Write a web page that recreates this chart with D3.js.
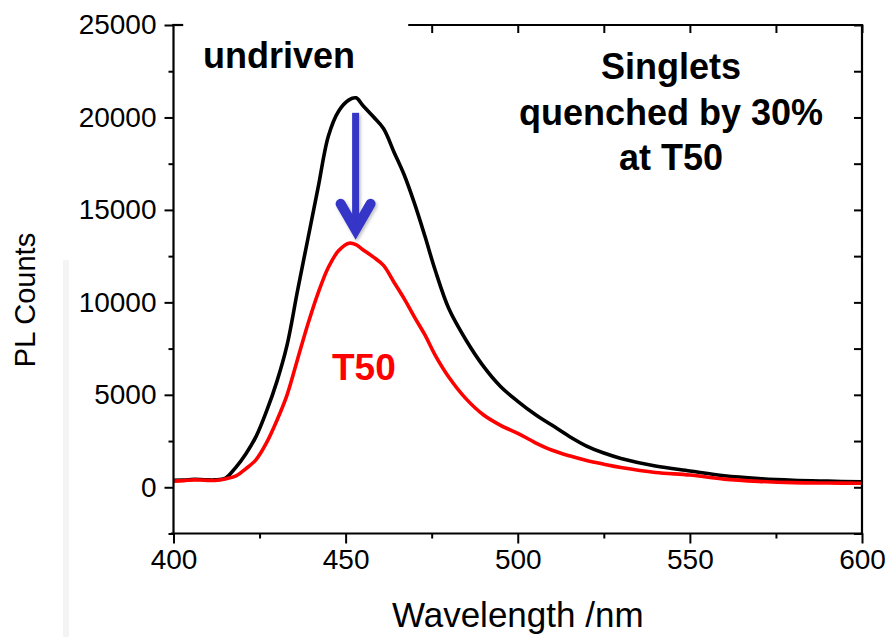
<!DOCTYPE html>
<html>
<head>
<meta charset="utf-8">
<script src="https://cdn.jsdelivr.net/npm/d3@7"></script>
<style>
  html, body { margin: 0; padding: 0; background: #fff; }
  svg { display: block; }
  text { font-family: "Liberation Sans", Arial, Helvetica, sans-serif; }
</style>
</head>
<body>
<svg id="chart" width="889" height="637"></svg>
<script>
// ---- data ----
const wavelengths = [400, 403, 406, 409, 412, 415, 418, 421, 424, 427, 430, 433, 436, 439, 442, 445, 448, 451, 453, 455, 458, 461, 464, 467, 470, 473, 476, 480, 485, 490, 495, 500, 505, 510, 515, 520, 525, 530, 540, 550, 560, 570, 580, 590, 600];
const undriven = [380, 390, 430, 410, 400, 480, 1050, 1800, 2750, 4100, 5700, 7700, 10600, 13400, 16200, 19000, 20350, 20950, 21060, 20650, 20050, 19400, 18150, 16900, 15350, 13600, 11750, 9650, 7950, 6550, 5450, 4650, 3950, 3350, 2750, 2230, 1850, 1560, 1150, 880, 620, 470, 380, 330, 290];
const t50 = [330, 360, 400, 380, 370, 450, 600, 1000, 1500, 2400, 3600, 5000, 6900, 8800, 10500, 11900, 12800, 13200, 13120, 12850, 12460, 12000, 11100, 10200, 9200, 8250, 7150, 5950, 4780, 3920, 3350, 2920, 2420, 2000, 1700, 1450, 1250, 1070, 800, 660, 440, 320, 250, 230, 220];
const xTicks = [400, 450, 500, 550, 600];
const xMinor = [425, 475, 525, 575];
const yTicks = [0, 5000, 10000, 15000, 20000, 25000];
const yMinor = [-2500, 2500, 7500, 12500, 17500, 22500];
const seriesNames = ["undriven", "T50"];
const seriesColors = ["#000000", "#ff0000"];
const arrow = { x: 452.9, yTop: 20250, yTip: 13760 };

// ---- layout ----
const svg = d3.select("#chart");
const pL = 173.5, pR = 862, pT = 25, pB = 533.5;
const x = d3.scaleLinear().domain([400, 600]).range([pL, pR]);
const y = d3.scaleLinear().domain([-2500, 25000]).range([pB, pT]);

// faint scan artifact on the left
svg.append("rect").attr("x", 63).attr("y", 260).attr("width", 6).attr("height", 377).attr("fill", "#f4f4f4");

// ---- curves ----
const line = d3.line().x(d => x(d[0])).y(d => y(d[1])).curve(d3.curveCatmullRom.alpha(0.5));
const seriesData = [undriven, t50];
seriesData.forEach((vals, i) => {
  svg.append("path")
    .datum(wavelengths.map((w, j) => [w, vals[j]]))
    .attr("fill", "none")
    .attr("stroke", seriesColors[i])
    .attr("stroke-width", 3.6)
    .attr("stroke-linejoin", "round")
    .attr("d", line);
});

// ---- axes ----
const fontTick = 28;
const axL = svg.append("g").attr("transform", `translate(${pL},0)`)
  .call(d3.axisLeft(y).tickValues(yTicks).tickSize(9).tickPadding(8).tickFormat(d3.format("d")));
const axLm = svg.append("g").attr("transform", `translate(${pL},0)`)
  .call(d3.axisLeft(y).tickValues(yMinor).tickSize(5).tickFormat(""));
const axB = svg.append("g").attr("transform", `translate(0,${pB})`)
  .call(d3.axisBottom(x).tickValues(xTicks).tickSize(10).tickPadding(6).tickFormat(d3.format("d")));
const axBm = svg.append("g").attr("transform", `translate(0,${pB})`)
  .call(d3.axisBottom(x).tickValues(xMinor).tickSize(5).tickFormat(""));
const axR = svg.append("g").attr("transform", `translate(${pR},0)`)
  .call(d3.axisLeft(y).tickValues(yTicks.concat(yMinor)).tickSize(8).tickFormat(""));
const topTicks = xTicks.concat(xMinor).filter(v => v >= 470);
const axT = svg.append("g").attr("transform", `translate(0,${pT})`)
  .call(d3.axisBottom(x).tickValues(topTicks).tickSize(8).tickFormat(""));
[axL, axLm, axB, axBm, axR, axT].forEach(g => {
  g.selectAll(".domain").remove();
  g.selectAll(".tick line").attr("stroke", "#000").attr("stroke-width", 2);
  g.selectAll(".tick text").attr("fill", "#000").style("font-size", fontTick + "px");
});
// frame lines
const frame = svg.append("g").attr("stroke", "#000").attr("stroke-width", 2.2).attr("stroke-linecap", "square");
frame.append("line").attr("x1", pL).attr("x2", pL).attr("y1", pT).attr("y2", pB);
frame.append("line").attr("x1", pR).attr("x2", pR).attr("y1", pT).attr("y2", pB);
frame.append("line").attr("x1", pL - 1.5).attr("x2", pR).attr("y1", pB).attr("y2", pB);
// top frame has a gap (covered by the label box in the original)
frame.append("line").attr("x1", pL).attr("x2", x(402.5)).attr("y1", pT).attr("y2", pT);
frame.append("line").attr("x1", x(468.5)).attr("x2", pR).attr("y1", pT).attr("y2", pT);

// ---- axis titles ----
svg.append("text").attr("x", (pL + pR) / 2).attr("y", 627).attr("text-anchor", "middle")
  .style("font-size", "35px").attr("fill", "#000").text("Wavelength /nm");
svg.append("text").attr("transform", "translate(35,300) rotate(-90)").attr("text-anchor", "middle")
  .style("font-size", "29px").attr("fill", "#000").text("PL Counts");

// ---- annotations ----
svg.append("text").attr("x", 203).attr("y", 68).style("font-size", "36px").style("font-weight", "bold")
  .attr("fill", "#000").text(seriesNames[0]);
svg.append("text").attr("x", 332).attr("y", 380).style("font-size", "37px").style("font-weight", "bold")
  .attr("fill", "#ff0000").text(seriesNames[1]);
const note = ["Singlets", "quenched by 30%", "at T50"];
note.forEach((t, i) => {
  svg.append("text").attr("x", 671).attr("y", 79 + i * 45.5).attr("text-anchor", "middle")
    .style("font-size", "36px").style("font-weight", "bold").attr("fill", "#000").text(t);
});

// blue arrow
const blue = "#3434c8";
const ax = x(arrow.x), ay1 = y(arrow.yTop), ay2 = y(arrow.yTip);
const defs = svg.append("defs");
const f = defs.append("filter").attr("id", "sh").attr("x", "-50%").attr("y", "-20%").attr("width", "200%").attr("height", "140%");
f.append("feDropShadow").attr("dx", 1.5).attr("dy", 2).attr("stdDeviation", 1.5).attr("flood-color", "#000").attr("flood-opacity", 0.25);
const ag = svg.append("g").attr("filter", "url(#sh)");
ag.append("line").attr("x1", ax).attr("x2", ax).attr("y1", ay1).attr("y2", ay2 - 6)
  .attr("stroke", blue).attr("stroke-width", 7);
ag.append("path")
  .attr("d", `M${ax - 15},${ay2 - 29} L${ax},${ay2 - 3} L${ax + 15},${ay2 - 29}`)
  .attr("fill", "none").attr("stroke", blue).attr("stroke-width", 10)
  .attr("stroke-linecap", "round").attr("stroke-linejoin", "miter");
</script>
</body>
</html>
